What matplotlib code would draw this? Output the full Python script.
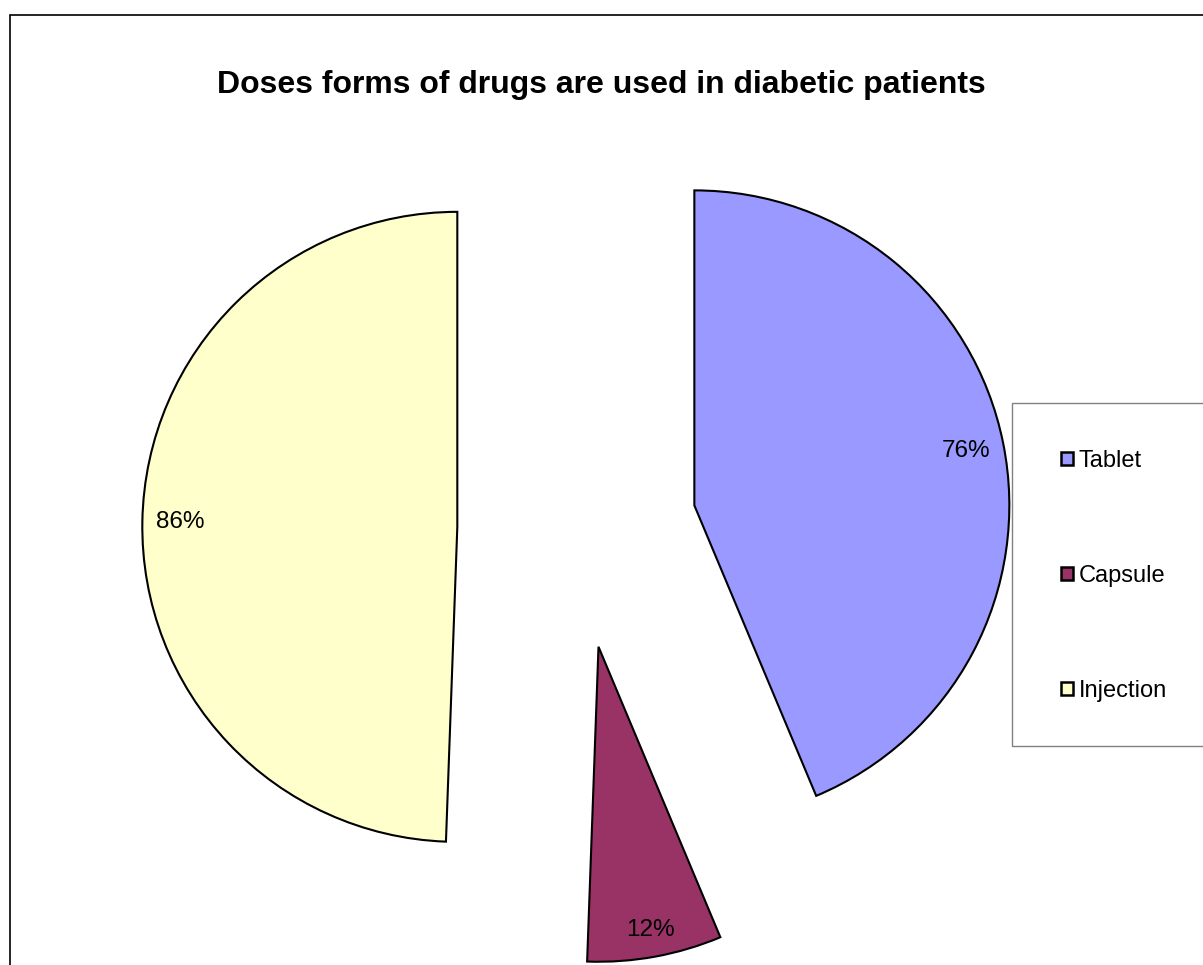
import matplotlib.pyplot as plt
from matplotlib.patches import Rectangle

plt.rcParams['font.family'] = ['Liberation Sans', 'DejaVu Sans']

categories = ['Tablet', 'Capsule', 'Injection']
values = [76, 12, 86]
colors = ['#9999FF', '#993366', '#FFFFCC']

fig = plt.figure(figsize=(12.03, 9.65), dpi=100)
ax = fig.add_axes([0, 0, 1, 1])

wedges, texts, autotexts = ax.pie(
    values, colors=colors, startangle=90, counterclock=False,
    explode=[0.38] * 3, radius=1.0,
    pctdistance=0.88,
    autopct='%1.0f%%',
    wedgeprops=dict(edgecolor='black', linewidth=1.5),
    textprops=dict(fontsize=17.5, color='black'))

# labels show the raw counts, not the share of the total
for t, v in zip(autotexts, values):
    t.set_text(f'{v}%')
# capsule label sits a little further out along its wedge
x, y = autotexts[1].get_position()
cx, cy = wedges[1].center
autotexts[1].set_position((cx + (x - cx) * 1.04, cy + (y - cy) * 1.04))

ax.set_xlim(-577 / 315, (1203 - 577) / 315)
ax.set_ylim(-436 / 315, 529 / 315)
ax.set_aspect('equal')
ax.axis('off')

fig.text(0.5, 1 - 85 / 965, 'Doses forms of drugs are used in diabetic patients',
         ha='center', va='center', fontsize=23, fontweight='bold')

# outer chart frame
fig.patches.append(Rectangle((10 / 1203, -0.01), 1.02, 1 - 15 / 965 + 0.01,
                             transform=fig.transFigure, fill=False,
                             edgecolor='black', linewidth=1.2))
# legend box
fig.patches.append(Rectangle((1012 / 1203, 1 - 746 / 965), 0.2, 343 / 965,
                             transform=fig.transFigure, fill=False,
                             edgecolor='#808080', linewidth=1.0))

handles = [Rectangle((0, 0), 1, 1, facecolor=c, edgecolor='black', linewidth=1.8)
           for c in colors]
fig.legend(handles, categories, loc='center left',
           bbox_to_anchor=(1040 / 1203, 1 - 576 / 965),
           frameon=False, fontsize=17, labelspacing=3.94,
           handlelength=0.5, handleheight=0.5, handletextpad=0.25)

fig.savefig('out.png', dpi=100)
